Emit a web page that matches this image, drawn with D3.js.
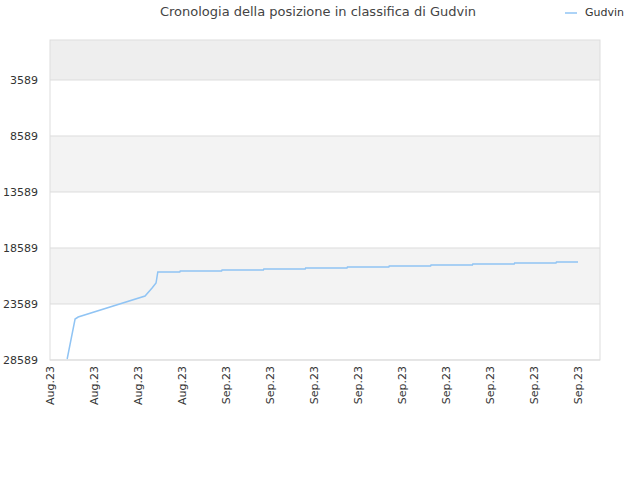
<!DOCTYPE html>
<html><head><meta charset="utf-8">
<script src="https://cdn.jsdelivr.net/npm/d3@7"></script>
<style>body{margin:0;background:#fff;font-family:"DejaVu Sans",sans-serif}</style>
</head><body><svg id="c" width="640" height="480"></svg>
<script>
'use strict';

var tickLabels = ['Aug.23','Aug.23','Aug.23','Aug.23','Sep.23','Sep.23','Sep.23','Sep.23','Sep.23','Sep.23','Sep.23','Sep.23','Sep.23'];
var yTicks = [3589, 8589, 13589, 18589, 23589, 28589];
// positions in tick units, ranks (flat runs with small jumps)
var dayPos = [0.39, 0.57, 0.64, 2.16, 2.32, 2.41, 2.45, 2.95, 2.96, 3.9, 3.91, 4.85, 4.86, 5.8, 5.81, 6.75, 6.76, 7.7, 7.71, 8.65, 8.66, 9.6, 9.61, 10.55, 10.56, 11.5, 11.51, 12.0];
var ranks = [28500, 24930, 24750, 22875, 22160, 21714, 20732, 20732, 20650, 20650, 20560, 20560, 20470, 20470, 20380, 20380, 20290, 20290, 20200, 20200, 20110, 20110, 20020, 20020, 19930, 19930, 19840, 19840];

var svg = d3.select('#c');
var m = {l: 50, r: 600, t: 40, b: 360};
var x = d3.scaleLinear().domain([0, 12.5]).range([m.l, m.r]);
var y = d3.scaleLinear().domain([18, 28589]).range([m.t, m.b]);

var bands = [[18, 3589, '#eeeeee'], [8589, 13589, '#f3f3f3'], [18589, 23589, '#f3f3f3']];
svg.selectAll('rect.band').data(bands).enter().append('rect')
    .attr('x', m.l).attr('width', m.r - m.l)
    .attr('y', function (d) { return y(d[0]); })
    .attr('height', function (d) { return y(d[1]) - y(d[0]); })
    .attr('fill', function (d) { return d[2]; });

svg.selectAll('line.grid').data(yTicks).enter().append('line')
    .attr('x1', m.l).attr('x2', m.r)
    .attr('y1', function (d) { return y(d); }).attr('y2', function (d) { return y(d); })
    .attr('stroke', '#dddddd');
svg.append('rect').attr('x', m.l).attr('y', m.t).attr('width', m.r - m.l).attr('height', m.b - m.t)
    .attr('fill', 'none').attr('stroke', '#dddddd');

svg.selectAll('text.yl').data(yTicks).enter().append('text')
    .attr('x', m.l - 12).attr('y', function (d) { return y(d) + 4; })
    .attr('text-anchor', 'end').attr('font-size', 11).attr('fill', '#333')
    .text(function (d) { return d; });

svg.selectAll('text.xl').data(tickLabels).enter().append('text')
    .attr('transform', function (d, i) { return 'translate(' + (x(i) + 4) + ',' + (m.b + 6) + ') rotate(-90)'; })
    .attr('text-anchor', 'end').attr('font-size', 11).attr('fill', '#333')
    .text(function (d) { return d; });

var line = d3.line().x(function (d, i) { return x(dayPos[i]); }).y(function (d) { return y(d); });
svg.append('path').datum(ranks).attr('d', line)
    .attr('fill', 'none').attr('stroke', '#90c4f4').attr('stroke-width', 1.5);

svg.append('text').attr('x', 318).attr('y', 16).attr('text-anchor', 'middle')
    .attr('font-size', 13).attr('fill', '#444').text('Cronologia della posizione in classifica di Gudvin');
svg.append('line').attr('x1', 565).attr('x2', 577).attr('y1', 13).attr('y2', 13)
    .attr('stroke', '#90c4f4').attr('stroke-width', 1.5);
svg.append('text').attr('x', 585).attr('y', 16).attr('font-size', 11).attr('fill', '#333').text('Gudvin');
</script></body></html>
